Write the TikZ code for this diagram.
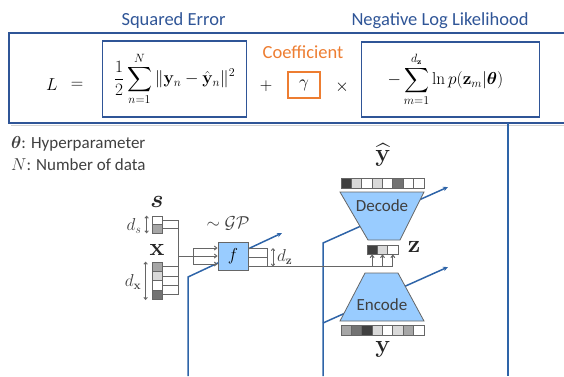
\documentclass[tikz,border=0pt]{standalone}
\usepackage{amsmath,bm}
\usepackage[no-math]{fontspec}
\setmainfont{Carlito}
\usetikzlibrary{arrows.meta,calc}
\definecolor{eqblue}{HTML}{2F5597}
\definecolor{lineblue}{HTML}{2E64A8}
\definecolor{orng}{HTML}{ED7D31}
\definecolor{fillblue}{HTML}{99CCFF}
\definecolor{gline}{HTML}{666666}
\definecolor{txtgray}{HTML}{404040}
\definecolor{cdark}{HTML}{404040}
\definecolor{cmid}{HTML}{737373}
\definecolor{cgray}{HTML}{A6A6A6}
\definecolor{clight}{HTML}{D9D9D9}
\begin{document}
\begin{tikzpicture}[x=1pt,y=-1pt,
  lbl/.style={font=\fontsize{18.5}{20}\selectfont, inner sep=0pt},
  eqt/.style={font=\fontsize{17}{19}\selectfont, inner sep=0pt},
  bigbox/.style={draw=eqblue, line width=1.6pt, inner sep=0pt},
  bl/.style={draw=lineblue, line width=1.5pt},
  blarrow/.style={bl, -{Stealth[length=5pt,width=4.5pt]}},
  gl/.style={draw=gline, line width=1pt},
  garrow/.style={gl, -{Straight Barb[length=2.5pt,width=4pt]}},
  darrow/.style={draw=gline, line width=0.9pt, {Straight Barb[length=2pt,width=3.5pt]}-{Straight Barb[length=2pt,width=3.5pt]}},
  cellbox/.style={draw=gline, line width=0.8pt, inner sep=0pt, minimum width=10pt},
  trap/.style={draw=gline, line width=0.8pt, fill=fillblue},
  symb/.style={font=\fontsize{25}{27}\selectfont, inner sep=0pt, text=black!85},
  dlbl/.style={font=\fontsize{17}{19}\selectfont, inner sep=0pt, text=txtgray},
  note/.style={font=\fontsize{17}{19}\selectfont, inner sep=0pt, text=txtgray, anchor=west}
]
\useasboundingbox (0,0) rectangle (564,376);

% ---------------- equation panel ----------------
\draw[gray!35, line width=1.6pt] (11,125.5) -- (580,125.5);
\draw[bigbox] (580,33) -- (9,33) -- (9,123) -- (580,123);

\node[lbl, text=eqblue] (se) at (173.5,21) {Squared Error};
\node[lbl, text=eqblue] (nll) at (440,21) {Negative Log Likelihood};
\node[lbl, text=orng] (coef) at (303,52) {Coefficient};

\node[eqt] (L) at (52,85) {$L$};
\node[eqt] (eq) at (77,85) {$=$};
\node[eqt, bigbox, minimum width=144pt, minimum height=76pt] (b1) at (174.5,79)
  {$\displaystyle \frac{1}{2}\sum_{n=1}^{N}\|\mathbf{y}_n-\hat{\mathbf{y}}_n\|^2$};
\node[eqt] (plus) at (266,86) {$+$};
\node[eqt, draw=orng, line width=1.6pt, minimum width=32pt, minimum height=26pt] (g) at (304,85) {$\gamma$};
\node[eqt] (times) at (342,87) {$\times$};
\node[eqt, bigbox, minimum width=178pt, minimum height=75pt] (b2) at (450.5,79.5)
  {$\displaystyle -\sum_{m=1}^{d_{\mathbf{z}}}\ln p(\mathbf{z}_m|\bm{\theta})\hspace{10pt}$};

\node[note] (n1) at (11,144) {$\bm{\theta}$: Hyperparameter};
\node[note] (n2) at (11,165) {$N$: Number of data};

% ---------------- blue sheet lines ----------------
\coordinate (p1b) at (188,376);
\coordinate (p1k) at (188,277);
\coordinate (p1e) at (282,233);
\draw[blarrow] (p1b) -- (p1k) -- (p1e);
\coordinate (p2b) at (323,376);
\coordinate (p2k) at (323,243);
\coordinate (p2e) at (448,187);
\draw[blarrow] (p2b) -- (p2k) -- (p2e);
\coordinate (p3s) at (323,323);
\coordinate (p3e) at (448,267);
\draw[blarrow] (p3s) -- (p3e);
\coordinate (p4t) at (508,123);
\coordinate (p4b) at (508,376);
\draw[bl] (p4t) -- (p4b);

% ---------------- inputs s and x ----------------
\node[symb] (slbl) at (157,202) {$\bm{s}$};
\node[symb] (xlbl) at (157,250) {$\mathbf{x}$};
\foreach \c [count=\i] in {white, cgray} {
  \node[cellbox, minimum height=8.5pt, fill=\c] (s\i) at (157,{211.75+8.5*\i}) {};
}
\foreach \c [count=\i] in {cgray, clight, white, cmid} {
  \node[cellbox, minimum height=9.4pt, fill=\c] (x\i) at (157,{262+9.4*(\i-0.5)}) {};
}
\coordinate (colT) at (178,220.25);
\coordinate (colB) at (178,294.9);
\foreach \n in {s1,s2,x1,x2,x3,x4} {
  \draw[gl] (\n.east) -- (\n.east -| colT);
}
\draw[gl] (colT) -- (colB);
\draw[darrow] ($(s1.north west)+(-5,0)$) coordinate (dsT) -- ($(s2.south west)+(-5,0)$) coordinate (dsB);
\node[dlbl] (ds) at (134,226) {$d_s$};
\draw[darrow] ($(x1.north west)+(-6,0)$) coordinate (dxT) -- ($(x4.south west)+(-6,0)$) coordinate (dxB);
\node[dlbl] (dx) at (133,282) {$d_{\mathbf{x}}$};

% ---------------- GP function f ----------------
\coordinate (mj) at (178,256);
\coordinate (fan) at (193,256);
\coordinate (fanT) at (193,248);
\coordinate (fanB) at (193,264);
\draw[gl] (mj) -- (fan);
\draw[gl] (fanT) -- (fanB);
\node[draw=gline, line width=0.9pt, fill=fillblue, minimum width=30pt, minimum height=28pt,
      inner sep=0pt, font=\fontsize{18}{20}\selectfont] (f) at (233,256) {$f$};
\draw[garrow] (fanT) -- (fanT -| f.west);
\draw[garrow] (fan) -- (f.west);
\draw[garrow] (fanB) -- (fanB -| f.west);
\node[dlbl, font=\fontsize{18}{20}\selectfont] (gp) at (228,223) {$\sim\mathcal{GP}$};

\coordinate (o1) at (267,248);
\coordinate (o2) at (267,257);
\coordinate (o3) at (267,266.5);
\draw[gl] (o1 -| f.east) -- (o1) -- (o3);
\draw[gl] (o2 -| f.east) -- (o2);
\draw[darrow] (273,248) coordinate (dzT) -- (273,266.5) coordinate (dzB);
\node[dlbl, anchor=west] (dz) at (277,257) {$d_{\mathbf{z}}$};

% ---------------- latent z ----------------
\foreach \c [count=\i] in {cdark, clight, white} {
  \node[cellbox, minimum width=10.33pt, minimum height=9pt, fill=\c] (z\i) at ({367+10.33*(\i-0.5)},249.5) {};
}
\node[symb] (zlbl) at (414,247) {$\mathbf{z}$};
\draw[gl] (o3 -| f.east) -- (o3 -| z3.south);
\foreach \i in {1,2,3} {
  \draw[garrow] (o3 -| z\i.south) -- (z\i.south);
}

% ---------------- decoder / encoder ----------------
\draw[trap] (340,192) -- (424,192) -- (400,240) -- (368,240) -- cycle;
\node[font=\fontsize{17}{19}\selectfont, text=txtgray, inner sep=0pt] (dec) at (382,206) {Decode};
\draw[trap] (365,273) -- (398,273) -- (424,321) -- (340,321) -- cycle;
\node[font=\fontsize{17}{19}\selectfont, text=txtgray, inner sep=0pt] (enc) at (382,305) {Encode};

\foreach \c [count=\i] in {cdark, clight, white, clight, white, cmid, white, white} {
  \node[cellbox, minimum width=10.375pt, minimum height=10pt, fill=\c] (yh\i) at ({341+10.375*(\i-0.5)},183) {};
}
\foreach \c [count=\i] in {cgray, cmid, cdark, clight, white, clight, cgray, white} {
  \node[cellbox, minimum width=10.375pt, minimum height=10pt, fill=\c] (y\i) at ({341+10.375*(\i-0.5)},330) {};
}
\node[symb] (yhlbl) at (383,155) {$\widehat{\mathbf{y}}$};
\node[symb] (ylbl) at (383,349) {$\mathbf{y}$};
\end{tikzpicture}
\end{document}
